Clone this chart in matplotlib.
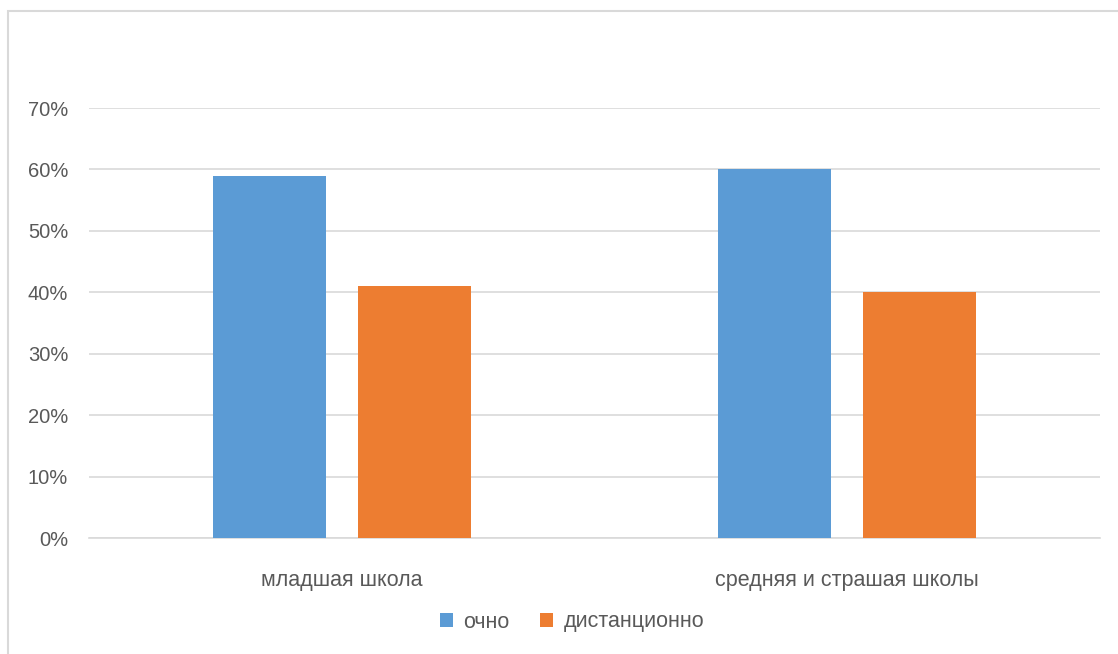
import matplotlib.pyplot as plt
from matplotlib.patches import Rectangle
import numpy as np

categories = ['младшая школа', 'средняя и страшая школы']
ochno = [0.59, 0.60]
distant = [0.41, 0.40]
series_names = ['очно', 'дистанционно']

plt.rcParams['font.family'] = ['Liberation Sans', 'DejaVu Sans']
text_color = '#595959'

fig = plt.figure(figsize=(11.18, 6.54), dpi=100)
W, H = 1118, 654
ax = fig.add_axes([89 / W, 1 - 538 / H, (1100 - 89) / W, (538 - 108) / H])

x = np.arange(len(categories))
bw = 0.2235
off = 0.1434
ax.bar(x - off, ochno, bw, color='#5b9bd5', label=series_names[0], zorder=3)
ax.bar(x + off, distant, bw, color='#ed7d31', label=series_names[1], zorder=3)

ax.set_xlim(-0.5, 1.5)
ax.set_ylim(0, 0.7)
ax.set_yticks(np.arange(0, 0.71, 0.1))
ax.set_yticklabels([f'{int(round(v * 100))}%' for v in np.arange(0, 0.71, 0.1)])
ax.yaxis.grid(True, color='#d9d9d9', linewidth=1.2, zorder=0)
ax.set_xticks(x)
ax.set_xticklabels(categories)
for s in ax.spines.values():
    s.set_visible(False)
ax.spines['bottom'].set_visible(True)
ax.spines['bottom'].set_color('#d9d9d9')
ax.spines['bottom'].set_linewidth(1.2)
ax.tick_params(axis='y', length=0, pad=15, labelsize=14.5, labelcolor=text_color)
ax.tick_params(axis='x', length=0, pad=23, labelsize=15.5, labelcolor=text_color)

fig.legend(loc='center', bbox_to_anchor=(572 / W, 1 - 622 / H), ncol=2, frameon=False,
           fontsize=15.5, labelcolor=text_color, handlelength=0.6, handleheight=0.6,
           handletextpad=0.5, columnspacing=1.4)

# chart area border
fig.patches.append(Rectangle((8 / W, -0.1), 1.2, 1 - 11 / H + 0.1, transform=fig.transFigure,
                             fill=False, edgecolor='#d9d9d9', linewidth=1.5))

fig.savefig('out.png', dpi=100)
